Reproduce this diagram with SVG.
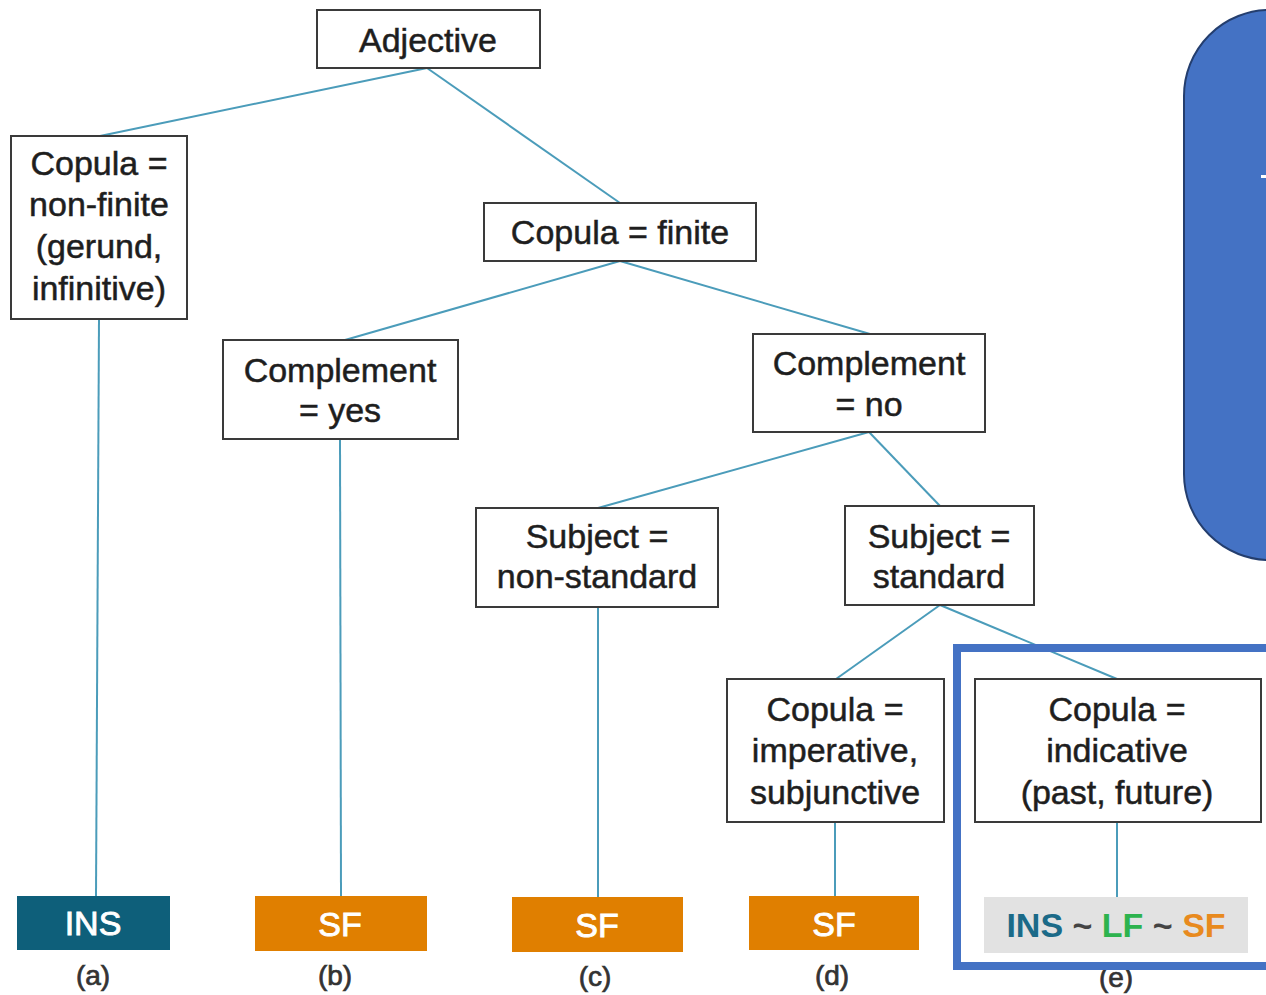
<svg xmlns="http://www.w3.org/2000/svg" width="1266" height="995" viewBox="0 0 1266 995">
<style>
.box{fill:#fff;stroke:#3a3a3a;stroke-width:2}
.t{font-family:"Liberation Sans",Arial,sans-serif;font-size:34px;fill:#1e1e1e;stroke:#1e1e1e;stroke-width:0.5;text-anchor:middle}
.leaf{font-family:"Liberation Sans",Arial,sans-serif;font-size:34px;fill:#fff;stroke:#fff;stroke-width:0.9;text-anchor:middle}
.lab{font-family:"Liberation Sans",Arial,sans-serif;font-size:28px;fill:#333;stroke:#333;stroke-width:0.7;text-anchor:middle}
.conn line{stroke:#4b9cba;stroke-width:2}
</style>
<rect width="1266" height="995" fill="#fff"/>
<g id="callout">
<rect x="1184" y="10" width="200" height="550" rx="86" ry="86" fill="#4472c4" stroke="#243e6e" stroke-width="2"/>
<rect x="1261" y="175" width="5" height="3" fill="#fff"/>
</g>
<g class="conn" id="connectors">
<line x1="427" y1="68" x2="100" y2="136"/>
<line x1="427" y1="68" x2="620" y2="203"/>
<line x1="620" y1="261" x2="345" y2="340"/>
<line x1="620" y1="261" x2="870" y2="334"/>
<line x1="99" y1="319" x2="96" y2="896"/>
<line x1="340" y1="439" x2="341" y2="896"/>
<line x1="869" y1="432" x2="598" y2="508"/>
<line x1="869" y1="432" x2="940" y2="506"/>
<line x1="598" y1="607" x2="598" y2="897"/>
<line x1="940" y1="605" x2="836" y2="679"/>
<line x1="940" y1="605" x2="1117" y2="679"/>
<line x1="835" y1="822" x2="835" y2="896"/>
<line x1="1117" y1="822" x2="1117" y2="897"/>
</g>
<g id="n-adjective"><rect class="box" x="317" y="10" width="223" height="58"/><text class="t" x="428" y="52">Adjective</text></g>
<g id="n-nonfinite"><rect class="box" x="11" y="136" width="176" height="183"/>
<text class="t" x="99" y="175">Copula =</text><text class="t" x="99" y="216">non-finite</text><text class="t" x="99" y="258">(gerund,</text><text class="t" x="99" y="300">infinitive)</text></g>
<g id="n-finite"><rect class="box" x="484" y="203" width="272" height="58"/><text class="t" x="620" y="244">Copula = finite</text></g>
<g id="n-compyes"><rect class="box" x="223" y="340" width="235" height="99"/><text class="t" x="340" y="382">Complement</text><text class="t" x="340" y="422">= yes</text></g>
<g id="n-compno"><rect class="box" x="753" y="334" width="232" height="98"/><text class="t" x="869" y="375">Complement</text><text class="t" x="869" y="416">= no</text></g>
<g id="n-subjnonstd"><rect class="box" x="476" y="508" width="242" height="99"/><text class="t" x="597" y="548">Subject =</text><text class="t" x="597" y="588">non-standard</text></g>
<g id="n-subjstd"><rect class="box" x="845" y="506" width="189" height="99"/><text class="t" x="939" y="548">Subject =</text><text class="t" x="939" y="588">standard</text></g>
<g id="n-imperative"><rect class="box" x="727" y="679" width="217" height="143"/><text class="t" x="835" y="721">Copula =</text><text class="t" x="835" y="762">imperative,</text><text class="t" x="835" y="804">subjunctive</text></g>
<g id="n-indicative"><rect class="box" x="975" y="679" width="286" height="143"/><text class="t" x="1117" y="721">Copula =</text><text class="t" x="1117" y="762">indicative</text><text class="t" x="1117" y="804">(past, future)</text></g>
<g id="leaf-a"><rect x="17" y="896" width="153" height="54" fill="#0e5f7a"/><text class="leaf" x="93" y="935">INS</text></g>
<g id="leaf-b"><rect x="255" y="896" width="172" height="55" fill="#e07f00"/><text class="leaf" x="340" y="936">SF</text></g>
<g id="leaf-c"><rect x="512" y="897" width="171" height="55" fill="#e07f00"/><text class="leaf" x="597" y="937">SF</text></g>
<g id="leaf-d"><rect x="749" y="896" width="170" height="54" fill="#e07f00"/><text class="leaf" x="834" y="936">SF</text></g>
<g id="leaf-e"><rect x="984" y="897" width="264" height="56" fill="#e2e2e2"/>
<text x="1116" y="937" text-anchor="middle" font-family="'Liberation Sans',Arial,sans-serif" font-size="34" font-weight="bold"><tspan fill="#1b6a88">INS</tspan><tspan fill="#444"> ~ </tspan><tspan fill="#2db34e">LF</tspan><tspan fill="#444"> ~ </tspan><tspan fill="#e88a1e">SF</tspan></text></g>
<g id="labels">
<text class="lab" x="93" y="985">(a)</text>
<text class="lab" x="335" y="985">(b)</text>
<text class="lab" x="595" y="986">(c)</text>
<text class="lab" x="832" y="985">(d)</text>
<text class="lab" x="1116" y="987">(e)</text>
</g>
<rect id="highlight" x="957" y="648" width="320" height="318" fill="none" stroke="#4472c4" stroke-width="8"/>
</svg>
